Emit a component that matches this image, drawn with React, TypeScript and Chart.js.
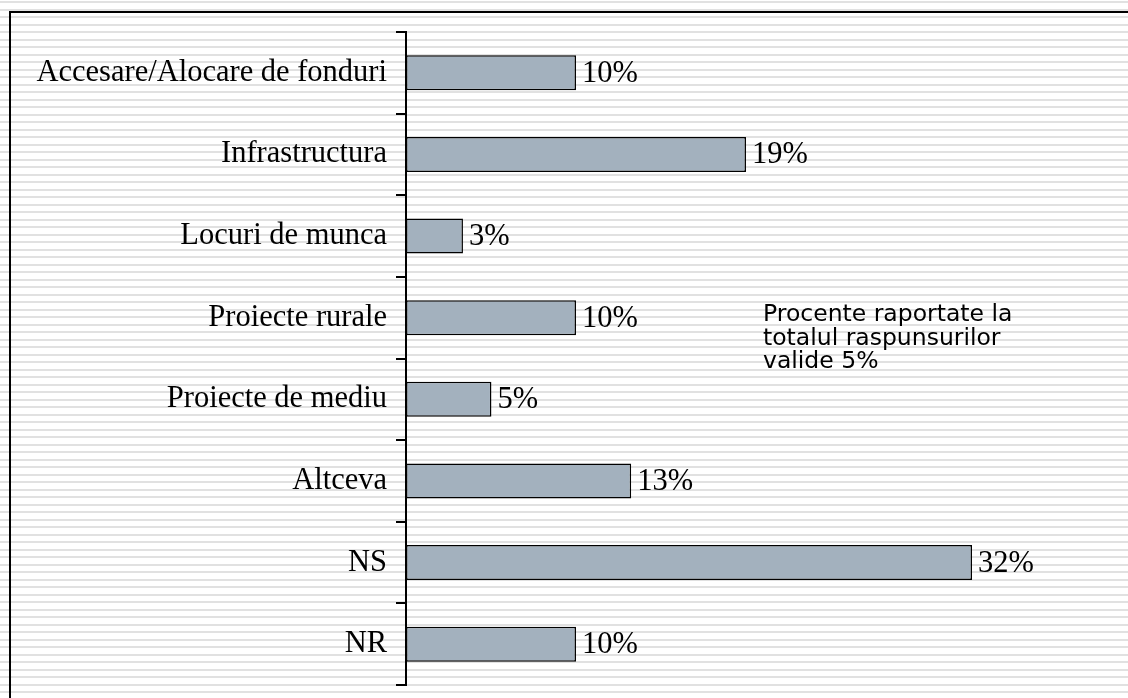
import React, { useEffect, useRef } from "react";
import { Chart, registerables } from "chart.js";

Chart.register(...registerables);

const categories = [
  "Accesare/Alocare de fonduri",
  "Infrastructura",
  "Locuri de munca",
  "Proiecte rurale",
  "Proiecte de mediu",
  "Altceva",
  "NS",
  "NR",
];
const values = [9.55, 19.1, 3.2, 9.55, 4.8, 12.65, 31.8, 9.55];
const noteLines = ["Procente raportate la", "totalul raspunsurilor", "valide 5%"];
const xMax = 40;

const W = 1128;
const H = 698;

const backgroundPlugin = {
  id: "bgStripes",
  beforeDraw(chart: any) {
    const ctx = chart.ctx;
    ctx.save();
    ctx.fillStyle = "#ffffff";
    ctx.fillRect(0, 0, W, H);
    ctx.fillStyle = "#e1e1e1";
    for (let y = 1; y < H; y += 7.5) {
      ctx.fillRect(0, Math.round(y), W, 2);
    }
    ctx.strokeStyle = "#000000";
    ctx.lineWidth = 2;
    ctx.beginPath();
    ctx.moveTo(10, H);
    ctx.lineTo(10, 12);
    ctx.lineTo(W, 12);
    ctx.stroke();
    ctx.restore();
  },
};

const labelsPlugin = {
  id: "valueLabels",
  afterDatasetsDraw(chart: any) {
    const ctx = chart.ctx;
    const meta = chart.getDatasetMeta(0);
    ctx.save();
    ctx.fillStyle = "#000";
    ctx.font = '30.5px "Liberation Serif"';
    ctx.textAlign = "left";
    ctx.textBaseline = "middle";
    meta.data.forEach((bar: any, i: number) => {
      const v = chart.data.datasets[0].data[i];
      ctx.fillText(Math.round(v) + "%", bar.x + 6, bar.y + 1);
    });
    ctx.font = '23.5px "DejaVu Sans"';
    ctx.textBaseline = "middle";
    noteLines.forEach((t, i) => {
      ctx.fillText(t, 763, 315 + i * 23.5);
    });
    ctx.restore();
  },
};

export default function App() {
  const ref = useRef<HTMLCanvasElement>(null);
  useEffect(() => {
    if (!ref.current) return;
    const chart = new Chart(ref.current, {
      type: "bar",
      data: {
        labels: categories,
        datasets: [
          {
            data: values,
            backgroundColor: "#a3b1be",
            borderColor: "#000000",
            borderWidth: 1.5,
            borderSkipped: false,
            barPercentage: 0.43,
            categoryPercentage: 1,
          },
        ],
      },
      options: {
        indexAxis: "y",
        animation: false,
        responsive: false,
        devicePixelRatio: 1,
        layout: { padding: { top: 32, bottom: 13, left: 0, right: 10 } },
        plugins: {
          legend: { display: false },
          tooltip: { enabled: false },
        },
        scales: {
          x: { display: false, min: 0, max: xMax },
          y: {
            type: "category",
            position: "left",
            grid: {
              display: true,
              drawOnChartArea: false,
              drawTicks: true,
              tickLength: 10,
              color: "#000000",
              lineWidth: 2,
              offset: true,
            },
            border: { display: true, color: "#000000", width: 2 },
            ticks: {
              color: "#000000",
              font: { family: '"Liberation Serif"', size: 30.5, lineHeight: 0.5 },
              padding: 9,
            },
            afterFit: (s: any) => {
              s.width = 406;
              s.paddingTop = 0;
              s.paddingBottom = 0;
            },
          },
        },
      },
      plugins: [backgroundPlugin, labelsPlugin],
    } as any);
    return () => chart.destroy();
  }, []);
  return (
    <div style={{ position: "fixed", left: 0, top: 0, width: W, height: H }}>
      <canvas ref={ref} width={W} height={H} style={{ display: "block" }} />
    </div>
  );
}
